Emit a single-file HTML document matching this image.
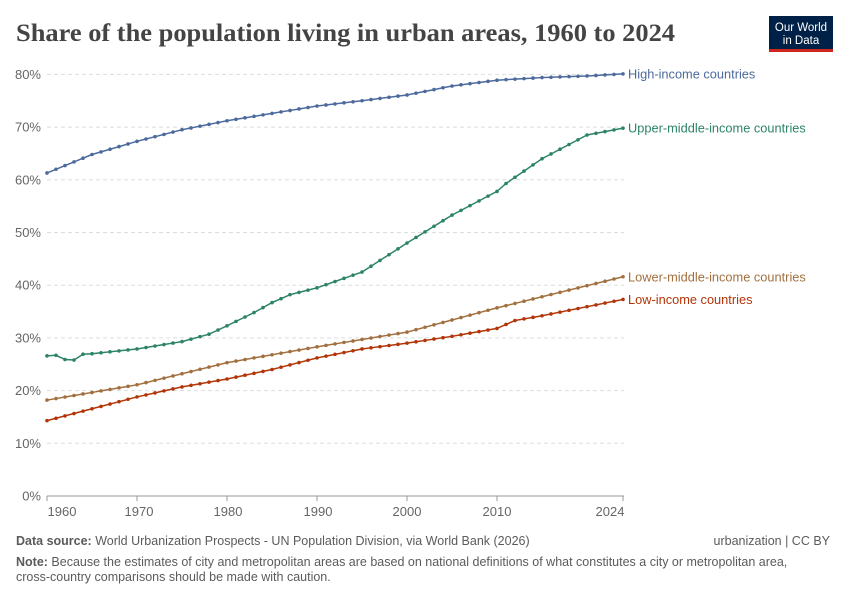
<!DOCTYPE html>
<html><head><meta charset="utf-8"><style>
body{margin:0;background:#fff;}
svg{display:block;font-family:"Liberation Sans",sans-serif;}
</style></head><body>
<svg id="s" width="850" height="600" xmlns="http://www.w3.org/2000/svg">
<text x="16" y="41" font-family="Liberation Serif,serif" font-size="25" font-weight="bold" fill="#444" textLength="659" lengthAdjust="spacingAndGlyphs">Share of the population living in urban areas, 1960 to 2024</text>
<rect x="769" y="16" width="64" height="34" fill="#002147"/>
<rect x="769" y="49" width="64" height="3" fill="#ce261e"/>
<text x="801" y="31" font-size="11.5" fill="#fff" text-anchor="middle">Our World</text>
<text x="801" y="44" font-size="11.5" fill="#fff" text-anchor="middle">in Data</text>
<g id="grid"></g>
<g id="series"></g>
<text x="16" y="545" font-size="12.5" fill="#5b5b5b"><tspan font-weight="bold">Data source:</tspan> World Urbanization Prospects - UN Population Division, via World Bank (2026)</text>
<text x="830" y="545" font-size="12.5" fill="#5b5b5b" text-anchor="end">urbanization | CC BY</text>
<text x="16" y="566" font-size="12.5" fill="#5b5b5b"><tspan font-weight="bold">Note:</tspan> Because the estimates of city and metropolitan areas are based on national definitions of what constitutes a city or metropolitan area,</text>
<text x="16" y="581" font-size="12.5" fill="#5b5b5b">cross-country comparisons should be made with caution.</text>
</svg>
<script>
const X=y=>47+(y-1960)*9.0, Y=v=>496-v*5.27;
let g='';
for(let v=10;v<=80;v+=10){g+=`<line x1="47" x2="624" y1="${Y(v)}" y2="${Y(v)}" stroke="#ddd" stroke-dasharray="4,3"/>`;}
for(let v=0;v<=80;v+=10){g+=`<text x="41" y="${Y(v)+4.5}" font-size="13" fill="#666" text-anchor="end">${v}%</text>`;}
g+=`<line x1="47" x2="624" y1="496" y2="496" stroke="#999"/>`;
[[1960,62],[1970,139],[1980,228],[1990,318],[2000,407],[2010,497],[2024,610]].forEach(([yr,lx])=>{
g+=`<line x1="${X(yr)}" x2="${X(yr)}" y1="496" y2="501" stroke="#999"/><text x="${lx}" y="516" font-size="13" fill="#666" text-anchor="middle">${yr}</text>`;});
document.getElementById('grid').innerHTML=g;
const S=[
["#4c6a9c","High-income countries",[[1960,61.3],[1965,64.8],[1970,67.3],[1975,69.5],[1980,71.2],[1985,72.6],[1990,74.0],[1995,75.0],[2000,76.1],[2005,77.8],[2010,78.9],[2015,79.4],[2020,79.7],[2024,80.1]],80.1],
["#2c8465","Upper-middle-income countries",[[1960,26.6],[1961,26.7],[1962,25.9],[1963,25.8],[1964,26.9],[1965,27.0],[1970,27.9],[1975,29.3],[1978,30.7],[1980,32.3],[1983,34.8],[1985,36.7],[1987,38.2],[1990,39.5],[1995,42.5],[2000,48.0],[2005,53.3],[2010,57.8],[2011,59.3],[2015,64.0],[2020,68.5],[2024,69.8]],69.8],
["#a2703f","Lower-middle-income countries",[[1960,18.2],[1970,21.1],[1980,25.3],[1990,28.3],[2000,31.1],[2010,35.7],[2024,41.6]],41.6],
["#b13507","Low-income countries",[[1960,14.3],[1970,18.8],[1975,20.7],[1980,22.2],[1985,24.0],[1990,26.2],[1995,27.9],[2000,29.0],[2005,30.3],[2010,31.8],[2012,33.3],[2015,34.2],[2024,37.3]],37.3]];
let h='';
S.forEach(([c,n,k])=>{
 let pts=[];
 for(let yr=1960;yr<=2024;yr++){
  let i=0;while(i<k.length-2&&k[i+1][0]<yr)i++;
  const [a,va]=k[i],[b,vb]=k[i+1];
  const v=va+(vb-va)*(yr-a)/(b-a);
  pts.push([X(yr),Y(v)]);
 }
 h+=`<polyline fill="none" stroke="${c}" stroke-width="1.5" points="${pts.map(p=>p.join(',')).join(' ')}"/>`;
 pts.forEach(p=>h+=`<circle cx="${p[0]}" cy="${p[1]}" r="1.8" fill="${c}"/>`);
 h+=`<text x="628" y="${pts[64][1]+4.5}" font-size="12.8" fill="${c}">${n}</text>`;
});
document.getElementById('series').innerHTML=h;
</script>
</body></html>
